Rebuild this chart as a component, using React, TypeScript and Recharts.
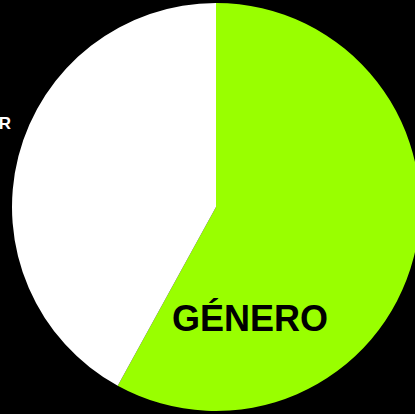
import React from "react";
import { PieChart, Pie, Cell } from "recharts";

const categories = ["GÉNERO", "MUJER"];
const values = [58, 42];
const colors = ["#99ff00", "#ffffff"];

const data = categories.map((name, i) => ({ name, value: values[i] }));

// labels sit where the reference puts them, not at the slice mid angle
function renderLabel(props: any) {
  const { cx, cy, index, name } = props;
  if (index === 1) {
    return (
      <text x={cx - 205} y={cy - 78} textAnchor="end" fill="#ffffff" fontSize={17} fontWeight="bold">
        {name}
      </text>
    );
  }
  return (
    <text x={cx + 34} y={cy + 124} textAnchor="middle" fill="#000000" fontSize={36} fontWeight="bold">
      {name}
    </text>
  );
}

export default function App() {
  return (
    <div style={{ position: "fixed", left: 0, top: 0, width: 415, height: 414, background: "#000", fontFamily: "'Liberation Sans', Arial, sans-serif" }}>
      <PieChart width={415} height={414} margin={{ top: 0, right: 0, bottom: 0, left: 0 }}>
        <Pie
          data={data}
          dataKey="value"
          nameKey="name"
          cx={216}
          cy={207}
          outerRadius={204}
          startAngle={90}
          endAngle={-270}
          stroke="none"
          labelLine={false}
          label={renderLabel}
          isAnimationActive={false}
        >
          {data.map((d, i) => (
            <Cell key={d.name} fill={colors[i]} />
          ))}
        </Pie>
      </PieChart>
    </div>
  );
}
